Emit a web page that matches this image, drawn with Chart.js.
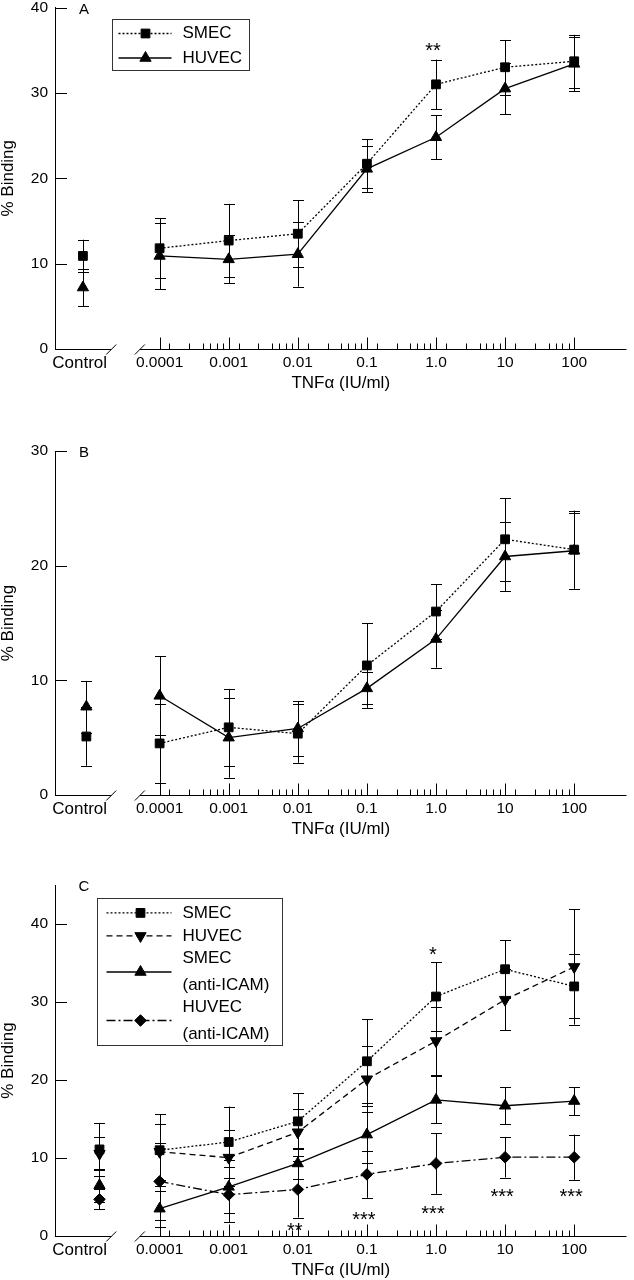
<!DOCTYPE html>
<html>
<head>
<meta charset="utf-8">
<script src="https://cdn.jsdelivr.net/npm/chart.js"></script>
<style>
html, body { margin: 0; padding: 0; background: #fff; overflow: hidden; }
canvas { display: block; }
</style>
</head>
<body>
<canvas id="panelA" width="634" height="397"></canvas>
<canvas id="panelB" width="634" height="446"></canvas>
<canvas id="panelC" width="634" height="437"></canvas>
<script>
// TNFa doses (IU/ml), same for all panels
const doses = [0.0001, 0.001, 0.01, 0.1, 1, 10, 100];
const doseLabels = ['0.0001', '0.001', '0.01', '0.1', '1.0', '10', '100'];

// first value in each list = control, then one per dose
const aSmec = [10.9, 11.8, 12.7, 13.5, 21.7, 31.0, 33.0, 33.7];
const aSmecErr = [1.9, 3.5, 4.3, 3.9, 2.9, 2.9, 3.2, 3.1];
const aHuvec = [7.2, 10.9, 10.5, 11.1, 21.1, 24.8, 30.5, 33.4];
const aHuvecErr = [2.2, 3.9, 2.8, 3.8, 2.7, 2.6, 3.0, 3.2];
const aStars = ['**'];
const aStarDoses = [1];
const aStarLevels = [35.6];

const bSmec = [5.1, 4.5, 5.9, 5.35, 11.3, 16.0, 22.3, 21.4];
const bSmecErr = [2.55, 3.45, 3.35, 2.55, 3.7, 2.4, 3.6, 3.4];
const bHuvec = [7.7, 8.65, 5.0, 5.8, 9.3, 13.6, 20.8, 21.3];
const bHuvecErr = [2.25, 3.45, 3.5, 2.4, 1.4, 2.5, 3.0, 3.3];

const cSmec = [11.1, 11.0, 12.05, 14.7, 22.4, 30.7, 34.2, 32.0];
const cSmecErr = [3.4, 4.6, 4.55, 3.6, 5.4, 4.4, 3.7, 4.1];
const cHuvec = [10.55, 10.8, 10.05, 13.3, 20.1, 25.0, 30.3, 34.5];
const cHuvecErr = [2.1, 3.6, 3.6, 3.0, 4.2, 4.4, 3.9, 7.4];
const cSmecIcam = [6.5, 3.5, 6.3, 9.3, 13.0, 17.45, 16.7, 17.3];
const cSmecIcamErr = [2.1, 2.3, 3.4, 2.0, 3.7, 3.0, 2.4, 1.8];
const cHuvecIcam = [4.7, 7.0, 5.3, 5.96, 7.9, 9.3, 10.1, 10.1];
const cHuvecIcamErr = [1.3, 4.9, 3.5, 3.6, 3.0, 3.9, 2.6, 2.9];
const cStars = ['**', '***', '***', '***', '***', '*'];
const cStarDoses = [0.01, 0.1, 1, 10, 100, 1];
const cStarLevels = [1.4, 2.8, 3.5, 5.66, 5.66, 36.7];

const FONT = "'Liberation Sans', Arial, Helvetica, sans-serif";
// x axis runs in log10(dose) units, control sits left of a break
const X_MIN = -5.514, X_MAX = 2.757;
const CTRL_TICK = -5.157;
const BREAK_END = -4.70, BREAK_START = -4.286;
const MINOR = [0.143, 0.43, 0.63, 0.73, 0.83, 0.92];

const styles = {
    smec:  { shape: 'rect', r: 6.2, rot: 0, dash: [2, 2] },
    huvec: { shape: 'triangle', r: 6.5, rot: 0, dash: [] },
    huvecDashed: { shape: 'triangle', r: 6.5, rot: 180, dash: [6, 4] },
    icamSmec: { shape: 'triangle', r: 6.5, rot: 0, dash: [] },
    icamHuvec: { shape: 'rectRot', r: 5.8, rot: 0, dash: [9, 3, 2, 3] }
};

function marker(ctx, shape, r, rot, x, y) {
    ctx.beginPath();
    if (shape === 'rect') {
        const s = r * Math.SQRT1_2;
        ctx.rect(x - s, y - s, 2 * s, 2 * s);
    } else if (shape === 'rectRot') {
        ctx.moveTo(x, y - r); ctx.lineTo(x + r, y); ctx.lineTo(x, y + r); ctx.lineTo(x - r, y);
        ctx.closePath();
    } else {
        const k = rot ? -1 : 1;
        ctx.moveTo(x, y - k * r);
        ctx.lineTo(x + r * 0.866, y + k * r / 2);
        ctx.lineTo(x - r * 0.866, y + k * r / 2);
        ctx.closePath();
    }
    ctx.fill();
    ctx.stroke();
}

function series(name, vals, errs, st, controlAt) {
    const xs = [controlAt].concat(doses.map(d => Math.log10(d)));
    return {
        label: name.join(' '),
        legendText: name,
        errors: errs,
        style: st,
        data: vals.map((v, i) => ({ x: xs[i], y: v })),
        borderColor: '#000',
        backgroundColor: '#000',
        borderWidth: 1.3,
        borderDash: st.dash,
        pointStyle: st.shape,
        pointRadius: st.r,
        pointRotation: st.rot,
        pointBackgroundColor: '#000',
        pointBorderColor: '#000',
        pointBorderWidth: 1,
        clip: false,
        segment: {
            borderColor: c => c.p0DataIndex === 0 ? 'rgba(0,0,0,0)' : undefined
        }
    };
}

const decor = {
    id: 'decor',
    beforeDatasetsDraw(chart, args, o) {
        const { ctx, chartArea: ca, scales: { x, y } } = chart;
        const yb = Math.round(ca.bottom) + 0.5;
        ctx.save();
        ctx.strokeStyle = '#000';
        ctx.lineWidth = 1;
        ctx.beginPath();
        // broken x axis
        const p1 = x.getPixelForValue(BREAK_END), p2 = x.getPixelForValue(BREAK_START);
        ctx.moveTo(ca.left, yb); ctx.lineTo(p1, yb);
        ctx.moveTo(p2, yb); ctx.lineTo(ca.right, yb);
        [p1, p2].forEach(p => { ctx.moveTo(p - 5, yb + 5); ctx.lineTo(p + 5, yb - 5); });
        // inward ticks
        doses.forEach(d => {
            const lg = Math.log10(d);
            const px = Math.round(x.getPixelForValue(lg)) + 0.5;
            ctx.moveTo(px, yb); ctx.lineTo(px, yb - 12);
            if (d < 100) {
                MINOR.forEach(f => {
                    const mx = Math.round(x.getPixelForValue(lg + f)) + 0.5;
                    ctx.moveTo(mx, yb); ctx.lineTo(mx, yb - 6);
                });
            }
        });
        y.ticks.forEach(t => {
            const py = Math.round(y.getPixelForValue(t.value)) + 0.5;
            ctx.moveTo(ca.left, py); ctx.lineTo(ca.left + 12, py);
        });
        ctx.stroke();
        // error bars
        ctx.beginPath();
        chart.data.datasets.forEach(ds => {
            ds.data.forEach((pt, j) => {
                const e = ds.errors[j];
                const px = Math.round(x.getPixelForValue(pt.x)) + 0.5;
                const top = y.getPixelForValue(pt.y + e), bot = y.getPixelForValue(pt.y - e);
                ctx.moveTo(px, top); ctx.lineTo(px, bot);
                ctx.moveTo(px - 5.5, Math.round(top) + 0.5); ctx.lineTo(px + 5.5, Math.round(top) + 0.5);
                ctx.moveTo(px - 5.5, Math.round(bot) + 0.5); ctx.lineTo(px + 5.5, Math.round(bot) + 0.5);
            });
        });
        ctx.stroke();
        ctx.restore();
    },
    afterDatasetsDraw(chart, args, o) {
        const { ctx, chartArea: ca, scales: { x, y } } = chart;
        ctx.save();
        ctx.fillStyle = '#000';
        // panel letter
        ctx.font = '15px ' + FONT;
        ctx.textAlign = 'center';
        ctx.textBaseline = 'middle';
        ctx.fillText(o.letter, ca.left + 29, ca.top + 2);
        // significance stars
        ctx.font = '20px ' + FONT;
        ctx.textBaseline = 'alphabetic';
        o.stars.forEach((s, i) => {
            ctx.fillText(s, x.getPixelForValue(Math.log10(o.starDoses[i])) - 3,
                y.getPixelForValue(o.starLevels[i]) + 11.5);
        });
        // legend box
        const L = o.legend;
        if (L) {
            const bx = Math.round(ca.left + L.dx) + 0.5, by = Math.round(ca.top + L.dy) + 0.5;
            ctx.strokeStyle = '#333';
            ctx.lineWidth = 1;
            ctx.strokeRect(bx, by, L.w, L.h);
            ctx.font = '17px ' + FONT;
            ctx.textAlign = 'left';
            ctx.textBaseline = 'middle';
            chart.data.datasets.forEach((ds, i) => {
                const ry = by + L.rows[i];
                ctx.strokeStyle = '#000';
                ctx.lineWidth = 1.3;
                ctx.setLineDash(ds.style.dash);
                ctx.beginPath();
                ctx.moveTo(bx + L.x0, ry); ctx.lineTo(bx + L.x1, ry);
                ctx.stroke();
                ctx.setLineDash([]);
                ctx.lineWidth = 1;
                marker(ctx, ds.style.shape, ds.style.r, ds.style.rot, bx + L.mx, ry);
                const n = ds.legendText.length;
                ds.legendText.forEach((t, k) => {
                    ctx.fillText(t, bx + L.tx, ry + (k - (n - 1) / 2) * 27);
                });
            });
        }
        ctx.restore();
    }
};

function makePanel(id, cfg) {
    return new Chart(document.getElementById(id), {
        type: 'line',
        data: { datasets: cfg.datasets },
        options: {
            responsive: false,
            devicePixelRatio: 1,
            animation: false,
            events: [],
            layout: { padding: { top: cfg.top, left: 0, right: 0, bottom: 0 } },
            plugins: {
                legend: { display: false },
                tooltip: { enabled: false },
                decor: cfg.decor
            },
            scales: {
                x: {
                    type: 'linear',
                    min: X_MIN,
                    max: X_MAX,
                    grid: { display: false, drawTicks: false },
                    border: { display: false },
                    afterBuildTicks: s => {
                        s.ticks = [CTRL_TICK].concat(doses.map(d => Math.log10(d))).map(v => ({ value: v }));
                    },
                    afterFit: s => {
                        s.height = cfg.xHeight;
                        s.paddingLeft = 0;
                        s.paddingRight = 0;
                    },
                    ticks: {
                        autoSkip: false,
                        maxRotation: 0,
                        padding: 5,
                        color: '#000',
                        font: c => ({ family: FONT, size: c.index === 0 ? 17 : 15.5, lineHeight: '18px' }),
                        callback: (v, i) => i === 0 ? 'Control' : doseLabels[i - 1]
                    },
                    title: {
                        display: true,
                        text: 'TNFα (IU/ml)',
                        color: '#000',
                        font: { family: FONT, size: 17, lineHeight: 1 },
                        padding: { top: 0, bottom: cfg.xHeight - 42.5 }
                    }
                },
                y: {
                    min: 0,
                    max: cfg.yMax,
                    grid: { display: false, drawTicks: false },
                    border: { display: true, color: '#000', width: 1 },
                    afterBuildTicks: s => {
                        s.ticks = s.ticks.filter(t => t.value % 10 === 0);
                    },
                    afterFit: s => {
                        s.width = 55;
                        s.paddingTop = 0;
                        s.paddingBottom = 0;
                    },
                    ticks: {
                        stepSize: 10,
                        padding: 7,
                        color: '#000',
                        font: { family: FONT, size: 15.5 }
                    },
                    title: {
                        display: true,
                        text: '% Binding',
                        color: '#000',
                        font: { family: FONT, size: 17, lineHeight: 1 },
                        padding: 0
                    }
                }
            }
        },
        plugins: [decor]
    });
}

makePanel('panelA', {
    top: 7, xHeight: 48, yMax: 40,
    datasets: [
        series(['SMEC'], aSmec, aSmecErr, styles.smec, -5.11),
        series(['HUVEC'], aHuvec, aHuvecErr, styles.huvec, -5.11)
    ],
    decor: {
        letter: 'A', stars: aStars, starDoses: aStarDoses, starLevels: aStarLevels,
        legend: { dx: 57, dy: 11, w: 137, h: 51, rows: [14, 38.5], x0: 6, x1: 59, mx: 33, tx: 70 }
    }
});

makePanel('panelB', {
    top: 54, xHeight: 48, yMax: 30,
    datasets: [
        series(['SMEC'], bSmec, bSmecErr, styles.smec, -5.06),
        series(['HUVEC'], bHuvec, bHuvecErr, styles.huvec, -5.06)
    ],
    decor: { letter: 'B', stars: [], starDoses: [], starLevels: [] }
});

makePanel('panelC', {
    top: 42, xHeight: 44, yMax: 45,
    datasets: [
        series(['SMEC'], cSmec, cSmecErr, styles.smec, -4.87),
        series(['HUVEC'], cHuvec, cHuvecErr, styles.huvecDashed, -4.87),
        series(['SMEC', '(anti-ICAM)'], cSmecIcam, cSmecIcamErr, styles.icamSmec, -4.87),
        series(['HUVEC', '(anti-ICAM)'], cHuvecIcam, cHuvecIcamErr, styles.icamHuvec, -4.87)
    ],
    decor: {
        letter: 'C', stars: cStars, starDoses: cStarDoses, starLevels: cStarLevels,
        legend: { dx: 42, dy: 13, w: 185, h: 147, rows: [14.4, 37.4, 73.5, 122], x0: 9, x1: 74, mx: 43, tx: 85 }
    }
});
</script>
</body>
</html>
